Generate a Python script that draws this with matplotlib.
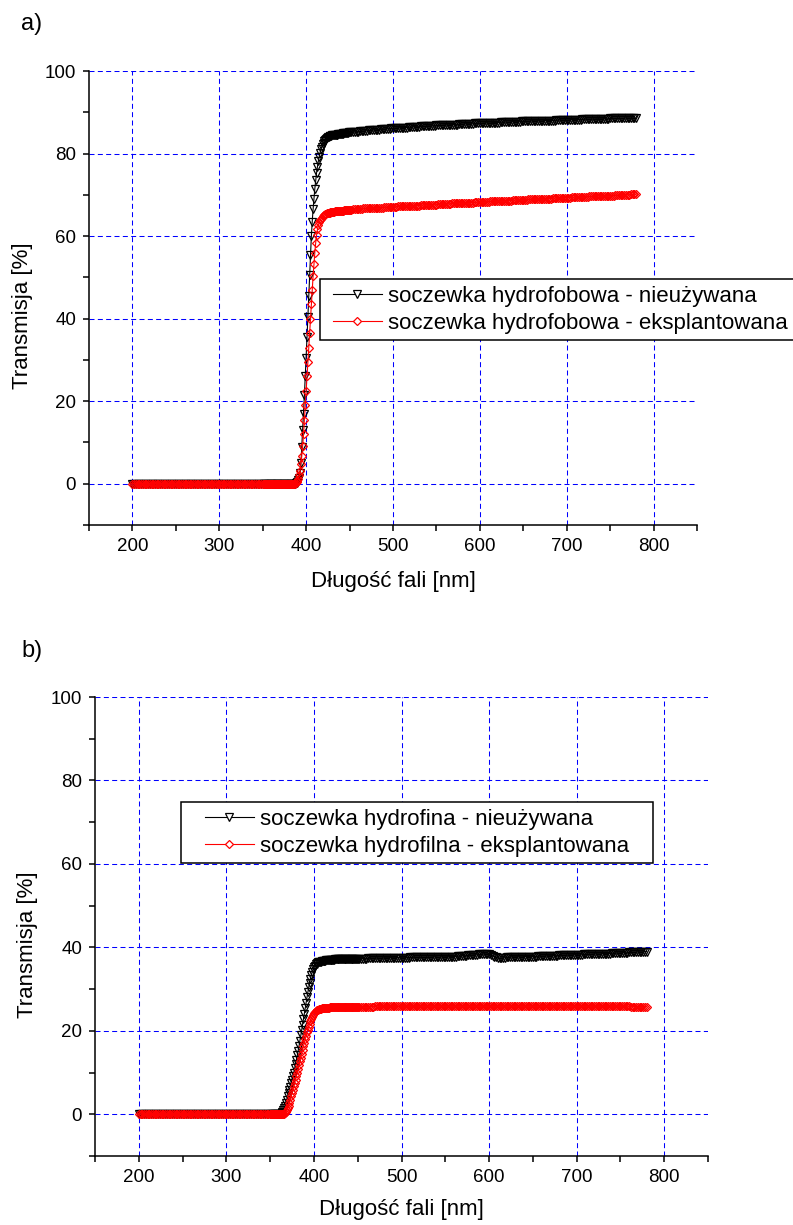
import numpy as np
import matplotlib
matplotlib.use("Agg")
import matplotlib.pyplot as plt
from matplotlib.patches import Rectangle
from matplotlib.ticker import MultipleLocator, FixedLocator

plt.rcParams['font.family'] = ['Liberation Sans', 'DejaVu Sans']
plt.rcParams['lines.scale_dashes'] = False

# wavelength grid [nm]: 2 nm steps on the flat parts, 1 nm across the edge
wl = np.concatenate([np.arange(200, 350, 2), np.arange(350, 450), np.arange(450, 781, 2)])

zeros_200_348 = [
    0, 0, 0, 0, 0, 0, 0, 0, 0, 0, 0, 0, 0, 0, 0,
    0, 0, 0, 0, 0, 0, 0, 0, 0, 0, 0, 0, 0, 0, 0,
    0, 0, 0, 0, 0, 0, 0, 0, 0, 0, 0, 0, 0, 0, 0,
    0, 0, 0, 0, 0, 0, 0, 0, 0, 0, 0, 0, 0, 0, 0,
    0, 0, 0, 0, 0, 0, 0, 0, 0, 0, 0, 0, 0, 0, 0,
]

# a) hydrophobic lens, unused
a_unused = zeros_200_348 + [
    # 350-449
    0, 0, 0, 0, 0, 0, 0, 0, 0, 0, 0, 0, 0, 0, 0, 0, 0, 0, 0, 0,
    0, 0, 0, 0, 0, 0, 0, 0, 0, 0, 0, 0, 0, 0, 0, 0, 0, 0, 0.1, 0.2,
    0.4, 0.8, 1.4, 2.5, 5.0, 9.0, 13.0, 17.0, 21.5, 26.0,
    30.5, 35.5, 40.5, 45.5, 50.5, 55.5, 60.0, 63.5, 66.5, 69.0,
    71.5, 73.5, 75.3, 76.8, 78.1, 79.2, 80.2, 81.0, 81.7, 82.2,
    82.6, 83.0, 83.3, 83.6, 83.8, 84.0, 84.1, 84.2, 84.3, 84.3,
    84.4, 84.4, 84.5, 84.5, 84.6, 84.6, 84.6, 84.7, 84.7, 84.7,
    84.8, 84.8, 84.8, 84.9, 84.9, 84.9, 85.0, 85.0, 85.0, 85.1,
    # 450-780 step 2
    85.1, 85.1, 85.2, 85.2, 85.3, 85.3, 85.4, 85.4, 85.4, 85.5, 85.5, 85.6, 85.6,
    85.7, 85.7, 85.7, 85.8, 85.8, 85.9, 85.9, 85.9, 86.0, 86.0, 86.0, 86.1,
    86.1, 86.1, 86.2, 86.2, 86.2, 86.3, 86.3, 86.3, 86.3, 86.4, 86.4, 86.4, 86.5,
    86.5, 86.5, 86.5, 86.6, 86.6, 86.6, 86.6, 86.7, 86.7, 86.7, 86.7, 86.7,
    86.8, 86.8, 86.8, 86.8, 86.9, 86.9, 86.9, 86.9, 87.0, 87.0, 87.0, 87.0, 87.0,
    87.1, 87.1, 87.1, 87.1, 87.2, 87.2, 87.2, 87.2, 87.2, 87.3, 87.3, 87.3,
    87.3, 87.3, 87.4, 87.4, 87.4, 87.4, 87.4, 87.5, 87.5, 87.5, 87.5, 87.5, 87.6,
    87.6, 87.6, 87.6, 87.6, 87.6, 87.7, 87.7, 87.7, 87.7, 87.7, 87.7, 87.8,
    87.8, 87.8, 87.8, 87.8, 87.8, 87.9, 87.9, 87.9, 87.9, 87.9, 87.9, 87.9, 88.0,
    88.0, 88.0, 88.0, 88.0, 88.0, 88.0, 88.1, 88.1, 88.1, 88.1, 88.1, 88.1,
    88.1, 88.1, 88.2, 88.2, 88.2, 88.2, 88.2, 88.2, 88.2, 88.3, 88.3, 88.3, 88.3,
    88.3, 88.3, 88.3, 88.3, 88.4, 88.4, 88.4, 88.4, 88.4, 88.4, 88.4, 88.4,
    88.5, 88.5, 88.5, 88.5, 88.5, 88.5, 88.5, 88.5, 88.5, 88.6, 88.6, 88.6, 88.6,
    88.6, 88.6, 88.6,
]

# a) hydrophobic lens, explanted
a_explanted = zeros_200_348 + [
    0, 0, 0, 0, 0, 0, 0, 0, 0, 0, 0, 0, 0, 0, 0, 0, 0, 0, 0, 0,
    0, 0, 0, 0, 0, 0, 0, 0, 0, 0, 0, 0, 0, 0, 0, 0, 0, 0, 0.1, 0.3,
    0.6, 1.1, 2.0, 3.2, 4.8, 6.8, 9.2, 12.0, 15.5, 19.0,
    22.5, 26.0, 29.5, 33.0, 36.5, 40.0, 43.5, 47.0, 50.3, 53.3,
    56.0, 58.4, 60.2, 61.6, 62.6, 63.3, 63.8, 64.2, 64.5, 64.8,
    65.0, 65.2, 65.3, 65.4, 65.5, 65.6, 65.7, 65.7, 65.8, 65.8,
    65.9, 65.9, 65.9, 66.0, 66.0, 66.0, 66.1, 66.1, 66.1, 66.1,
    66.2, 66.2, 66.2, 66.2, 66.3, 66.3, 66.3, 66.3, 66.3, 66.4,
    # 450-780 step 2, ten per row
    66.4, 66.4, 66.5, 66.5, 66.5, 66.6, 66.6, 66.6, 66.7, 66.7,
    66.7, 66.7, 66.8, 66.8, 66.8, 66.8, 66.9, 66.9, 66.9, 66.9,
    67.0, 67.0, 67.0, 67.0, 67.1, 67.1, 67.1, 67.1, 67.2, 67.2,
    67.2, 67.2, 67.3, 67.3, 67.3, 67.3, 67.4, 67.4, 67.4, 67.4,
    67.4, 67.5, 67.5, 67.5, 67.5, 67.5, 67.6, 67.6, 67.6, 67.6,
    67.6, 67.7, 67.7, 67.7, 67.7, 67.8, 67.8, 67.8, 67.8, 67.9,
    67.9, 67.9, 67.9, 68.0, 68.0, 68.0, 68.0, 68.0, 68.1, 68.1,
    68.1, 68.1, 68.2, 68.2, 68.2, 68.2, 68.2, 68.3, 68.3, 68.3,
    68.3, 68.4, 68.4, 68.4, 68.4, 68.5, 68.5, 68.5, 68.5, 68.6,
    68.6, 68.6, 68.6, 68.6, 68.7, 68.7, 68.7, 68.7, 68.8, 68.8,
    68.8, 68.8, 68.8, 68.9, 68.9, 68.9, 68.9, 69.0, 69.0, 69.0,
    69.0, 69.0, 69.1, 69.1, 69.1, 69.1, 69.1, 69.2, 69.2, 69.2,
    69.2, 69.2, 69.3, 69.3, 69.3, 69.3, 69.3, 69.3, 69.4, 69.4,
    69.4, 69.4, 69.4, 69.5, 69.5, 69.5, 69.5, 69.5, 69.6, 69.6,
    69.6, 69.6, 69.6, 69.7, 69.7, 69.7, 69.7, 69.7, 69.8, 69.8,
    69.8, 69.8, 69.8, 69.9, 69.9, 69.9, 69.9, 69.9, 70.0, 70.0,
    70.0, 70.0, 70.1, 70.1, 70.1, 70.2,
]

# b) hydrophilic lens, unused
b_unused = zeros_200_348 + [
    0, 0, 0, 0, 0, 0, 0, 0, 0, 0, 0, 0,
    0.1, 0.3, 0.6, 1.0, 1.5, 2.1, 2.8, 3.5, 4.3, 5.0,
    5.8, 6.6, 7.4, 8.2, 9.1, 10.0, 11.0, 12.0, 13.0, 14.1,
    15.2, 16.4, 17.6, 18.9, 20.2, 21.5, 22.8, 24.1, 25.4, 26.7,
    28.0, 29.2, 30.4, 31.5, 32.5, 33.4, 34.1, 34.7, 35.2, 35.6,
    35.9, 36.1, 36.3, 36.4, 36.5, 36.6, 36.6, 36.7, 36.7, 36.8,
    36.8, 36.8, 36.9, 36.9, 36.9, 36.9, 37.0, 37.0, 37.0,
    37.0, 37.0, 37.0, 37.1, 37.1, 37.1, 37.1, 37.1, 37.1, 37.1,
    37.1, 37.1, 37.2, 37.2, 37.2, 37.2, 37.2, 37.2, 37.2, 37.2,
    37.2, 37.2, 37.2, 37.2, 37.2, 37.3, 37.3, 37.3, 37.3,
    # 450-780 step 2, ten per row
    37.3, 37.3, 37.3, 37.3, 37.3, 37.3, 37.4, 37.4, 37.4, 37.4,
    37.4, 37.4, 37.4, 37.4, 37.4, 37.4, 37.5, 37.5, 37.5, 37.5,
    37.5, 37.5, 37.5, 37.5, 37.5, 37.5, 37.5, 37.5, 37.5, 37.5,
    37.6, 37.6, 37.6, 37.6, 37.6, 37.6, 37.6, 37.6, 37.6, 37.6,
    37.6, 37.6, 37.7, 37.7, 37.7, 37.7, 37.6, 37.6, 37.7, 37.7,
    37.7, 37.7, 37.7, 37.8, 37.8, 37.8, 37.8, 37.9, 37.9, 37.9,
    38.0, 38.0, 38.0, 38.1, 38.1, 38.1, 38.2, 38.2, 38.2, 38.3,
    38.3, 38.3, 38.4, 38.4, 38.4, 38.3, 38.2, 38.0, 37.8, 37.6,
    37.5, 37.4, 37.4, 37.5, 37.5, 37.6, 37.6, 37.6, 37.7, 37.7,
    37.7, 37.7, 37.7, 37.7, 37.7, 37.8, 37.8, 37.8, 37.8, 37.8,
    37.8, 37.8, 37.8, 37.9, 37.9, 37.9, 37.9, 37.9, 37.9, 38.0,
    38.0, 38.0, 38.0, 38.0, 38.0, 38.1, 38.1, 38.1, 38.1, 38.1,
    38.1, 38.2, 38.2, 38.2, 38.2, 38.2, 38.2, 38.2, 38.2, 38.3,
    38.3, 38.3, 38.3, 38.3, 38.4, 38.4, 38.4, 38.4, 38.4, 38.4,
    38.5, 38.5, 38.5, 38.5, 38.5, 38.6, 38.6, 38.6, 38.6, 38.6,
    38.7, 38.7, 38.7, 38.7, 38.7, 38.8, 38.8, 38.8, 38.8, 38.8,
    38.9, 38.9, 38.9, 38.9, 39.0, 39.0,
]

# b) hydrophilic lens, explanted
b_explanted = zeros_200_348 + [
    0, 0, 0, 0, 0, 0, 0, 0, 0, 0, 0, 0, 0, 0, 0, 0,
    0.1, 0.3, 0.6, 1.0, 1.5, 2.1, 2.8, 3.5, 4.3, 5.1,
    5.9, 6.7, 7.5, 8.3, 9.1, 10.0, 10.9, 11.8, 12.7, 13.6,
    14.5, 15.4, 16.3, 17.2, 18.0, 18.8, 19.6, 20.3, 21.0, 21.7,
    22.3, 22.9, 23.4, 23.8, 24.2, 24.5, 24.7, 24.9, 25.0, 25.1,
    25.2, 25.3, 25.3, 25.4, 25.4,
    25.4, 25.5, 25.5, 25.5, 25.5, 25.5, 25.5, 25.6, 25.6, 25.6,
    25.6, 25.6, 25.6, 25.6, 25.6, 25.6, 25.7, 25.7, 25.7, 25.7,
    25.7, 25.7, 25.7, 25.7, 25.7, 25.7, 25.7, 25.7, 25.8, 25.8,
    25.8, 25.8, 25.8, 25.8, 25.8, 25.8, 25.8, 25.8, 25.8,
    # 450-780 step 2, ten per row
    25.8, 25.8, 25.8, 25.8, 25.8, 25.8, 25.8, 25.8, 25.8, 25.8,
    25.9, 25.9, 25.9, 25.9, 25.9, 25.9, 25.9, 25.9, 25.9, 25.9,
    25.9, 25.9, 25.9, 25.9, 25.9, 25.9, 25.9, 25.9, 25.9, 25.9,
    25.9, 25.9, 25.9, 25.9, 25.9, 26.0, 26.0, 26.0, 26.0, 26.0,
    26.0, 26.0, 26.0, 26.0, 26.0, 26.0, 26.0, 26.0, 26.0, 26.0,
    26.0, 26.0, 26.0, 26.0, 26.0, 26.0, 26.0, 26.0, 26.0, 26.0,
    26.0, 26.0, 26.0, 26.0, 26.0, 26.0, 26.0, 26.0, 26.0, 26.0,
    26.0, 26.0, 26.0, 26.0, 26.0, 26.0, 26.0, 26.0, 26.0, 26.0,
    26.0, 26.0, 26.0, 26.0, 26.0, 26.0, 26.0, 26.0, 26.0, 26.0,
    26.0, 26.0, 26.0, 26.0, 26.0, 26.0, 26.0, 26.0, 26.0, 26.0,
    26.0, 26.0, 26.0, 26.0, 26.0, 26.0, 26.0, 26.0, 26.0, 26.0,
    26.0, 26.0, 26.0, 26.0, 26.0, 26.0, 26.0, 26.0, 26.0, 26.0,
    26.0, 26.0, 26.0, 26.0, 26.0, 26.0, 26.0, 26.0, 26.0, 26.0,
    26.0, 26.0, 26.0, 26.0, 25.9, 25.9, 25.9, 25.9, 25.9, 25.9,
    25.9, 25.9, 25.9, 25.9, 25.9, 25.9, 25.9, 25.9, 25.9, 25.9,
    25.9, 25.9, 25.9, 25.9, 25.9, 25.9, 25.8, 25.8, 25.8, 25.8,
    25.8, 25.8, 25.8, 25.8, 25.8, 25.8,
]

series = {"a_unused": a_unused, "a_explanted": a_explanted,
          "b_unused": b_unused, "b_explanted": b_explanted}
bad = {k: len(v) for k, v in series.items() if len(v) != len(wl)}
if bad:
    raise ValueError(f"length mismatch vs {len(wl)}: {bad}")

panels = [
    ("a)", a_unused, a_explanted,
     "soczewka hydrofobowa - nieużywana", "soczewka hydrofobowa - eksplantowana"),
    ("b)", b_unused, b_explanted,
     "soczewka hydrofina - nieużywana", "soczewka hydrofilna - eksplantowana"),
]

W, H = 793, 1225
fig = plt.figure(figsize=(W / 100, H / 100), dpi=100)

# layout in pixels
boxes = [(89, 71, 697, 525), (95, 697, 708, 1156)]      # left, top, right, bottom
legend_box = [(320, 279, 800, 340), (181, 802, 653, 863)]
legend_anchor = [(333, 286), (205, 809)]               # handle start, content top
tag_pos = [(21, 24), (21, 651)]
ylab_right = [33, 38]
xlab_top = [571, 1199]

for (tag, unused, expl, lab1, lab2), (l, t, r, b), lbox, (lx, ly), (tx, ty), yx, xy in zip(
        panels, boxes, legend_box, legend_anchor, tag_pos, ylab_right, xlab_top):
    ax = fig.add_axes([l / W, 1 - b / H, (r - l) / W, (b - t) / H])
    ax.plot(wl, unused, color="black", lw=0.8, marker="v", ms=5.5,
            mfc="none", mec="black", mew=0.9, label=lab1)
    ax.plot(wl, expl, color="red", lw=0.8, marker="D", ms=4.5,
            mfc="none", mec="red", mew=0.9, label=lab2)

    ax.set_xlim(150, 850)
    ax.set_ylim(-10, 100)
    ax.xaxis.set_major_locator(FixedLocator([200, 300, 400, 500, 600, 700, 800]))
    ax.xaxis.set_minor_locator(MultipleLocator(50))
    ax.yaxis.set_major_locator(FixedLocator([0, 20, 40, 60, 80, 100]))
    ax.yaxis.set_minor_locator(MultipleLocator(10))
    ax.tick_params(which="both", direction="out", length=4.3, width=1.1,
                   labelsize=13.5, pad=5)
    ax.grid(True, which="major", color="#0000ff", lw=0.75, linestyle=(0, (3.6, 2.4)))
    ax.set_axisbelow(True)
    for s in ("top", "right"):
        ax.spines[s].set_visible(False)
    for s in ("left", "bottom"):
        ax.spines[s].set_linewidth(1.1)

    ax.set_ylabel("Transmisja [%]", fontsize=16)
    ax.set_xlabel("Długość fali [nm]", fontsize=16)
    ax.yaxis.set_label_coords((yx - l) / (r - l), 0.46)
    ax.xaxis.set_label_coords(0.5, -(xy - b) / (b - t))

    # legend frame drawn separately so its padding can follow the original
    x0, y0, x1, y1 = lbox
    ax.add_patch(Rectangle((x0 / W, 1 - y1 / H), (x1 - x0) / W, (y1 - y0) / H,
                           transform=fig.transFigure, clip_on=False,
                           facecolor="white", edgecolor="black", lw=1.1, zorder=4.9))
    leg = ax.legend(loc="upper left", bbox_to_anchor=(lx / W, 1 - ly / H),
                    bbox_transform=fig.transFigure, borderaxespad=0, borderpad=0,
                    fontsize=16, handlelength=2.2, handletextpad=0.27,
                    labelspacing=0.26, frameon=False)
    leg.set_zorder(5)
    for hl in leg.get_lines():
        hl.set_markerfacecolor("white")

    fig.text(tx / W, 1 - ty / H, tag, fontsize=17, va="center", ha="left")

fig.savefig("out.png", dpi=100)
